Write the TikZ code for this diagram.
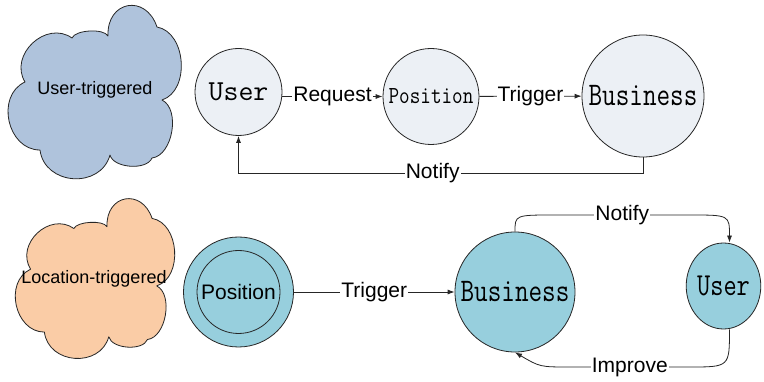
\documentclass[tikz,border=0pt]{standalone}
\usepackage{fontspec}
\setmainfont{Liberation Sans}
\usepackage{graphicx}
\usetikzlibrary{calc,arrows.meta,shapes.geometric}
\definecolor{cloudblue}{RGB}{175,195,220}
\definecolor{cloudorange}{RGB}{250,204,166}
\definecolor{lightfill}{RGB}{236,240,245}
\definecolor{tealfill}{RGB}{151,207,221}
\begin{document}
\begin{tikzpicture}[x=1pt,y=-1pt,
  puff/.style={to path={.. controls ($(\tikztostart)!0.1!(\tikztotarget)!#1!90:(\tikztotarget)$) and ($(\tikztotarget)!0.1!(\tikztostart)!#1!-90:(\tikztostart)$) .. (\tikztotarget)}},
  cloudbox/.style={draw=black!85, line width=0.8pt, line join=round},
  stnode/.style={circle, draw=black!85, line width=0.8pt, inner sep=0pt},
  arr/.style={-{Latex[length=7pt,width=5pt]}, line width=0.8pt, draw=black!85},
  lbl/.style={fill=white, inner sep=1pt, font=\fontsize{21}{24}\selectfont},
  cloudtxt/.style={inner sep=0pt, font=\fontsize{18}{20}\selectfont},
  ]
\fill[white] (0,0) rectangle (764,382);
\useasboundingbox (0,0) rectangle (764,382);

% clouds
\draw[cloudbox, fill=cloudblue] (25,82) to[puff=31pt] (72,38) to[puff=8pt] (108,36) to[puff=35pt] (157,27) to[puff=29pt] (162,100) to[puff=20pt] (152,158) to[puff=13pt] (110,155) to[puff=35pt] (40,150) to[puff=32pt] (25,82) -- cycle;
\node[cloudtxt] (ut) at (95,90) {User-triggered};

\draw[cloudbox, fill=cloudorange] (30.6,269.2) to[puff=29pt] (73.9,228.5) to[puff=7pt] (107,226.7) to[puff=32pt] (152.1,218.4) to[puff=27pt] (156.7,285.9) to[puff=18pt] (147.5,339.5) to[puff=12pt] (108.8,336.8) to[puff=32pt] (44.4,332.1) to[puff=29pt] (30.6,269.2) -- cycle;
\node[cloudtxt] (lt) at (94,279) {Location-triggered};

% top row
\node[stnode, fill=lightfill, minimum size=87pt] (userA) at (238.5,92)
  {\ttfamily\fontsize{29}{30}\selectfont User};
\node[stnode, fill=lightfill, minimum size=96pt] (posA) at (431,96.5)
  {\scalebox{0.84}[1]{\ttfamily\fontsize{24.5}{26}\selectfont Position}};
\node[stnode, fill=lightfill, minimum size=122pt] (busA) at (643,96)
  {\scalebox{0.8}[1]{\ttfamily\fontsize{33}{34}\selectfont Business}};

\draw[arr] (userA.east |- posA) -- node[lbl]{Request} (posA);
\draw[arr] (posA) -- node[lbl]{Trigger} (busA);
\draw[arr] (busA.south) -- ++(0,16) -| node[lbl,pos=0.26]{Notify} (userA.south);

% bottom row
\node[stnode, fill=tealfill, minimum size=110pt] (posBo) at (238.5,292) {};
\node[stnode, minimum size=83pt, font=\fontsize{21}{24}\selectfont] (posBi) at (posBo.center) {Position};
\node[stnode, fill=tealfill, minimum size=120pt] (busB) at (515,292)
  {\scalebox{0.8}[1]{\ttfamily\fontsize{33}{34}\selectfont Business}};
\node[ellipse, draw=black!85, line width=0.8pt, inner sep=0pt, fill=tealfill,
  minimum width=74pt, minimum height=86pt] (userB) at (723.5,286)
  {\scalebox{0.8}[1]{\ttfamily\fontsize{32}{33}\selectfont User}};

\draw[arr] (posBo) -- node[lbl]{Trigger} (busB);

\coordinate (ntop) at (0,215);
\coordinate (nbot) at (0,367);
\coordinate (uBn) at ([xshift=6pt]userB.north);
\coordinate (uBs) at ([xshift=6pt]userB.south);
\coordinate (c1) at (busB.north |- ntop);
\coordinate (c2) at (uBn |- ntop);
\coordinate (c3) at (uBs |- nbot);
\coordinate (c4) at (busB.south |- nbot);

\draw[arr] (busB.north) .. controls (c1) .. ($(c1)+(40,0)$) -- node[lbl]{Notify} ($(c2)+(-40,0)$) .. controls (c2) .. (uBn);
\draw[arr] (uBs) .. controls (c3) .. ($(c3)+(-40,0)$) -- node[lbl]{Improve} ($(c4)+(55,0)$) .. controls ($(c4)+(25,0)$) .. (busB.south);
\end{tikzpicture}
\end{document}
